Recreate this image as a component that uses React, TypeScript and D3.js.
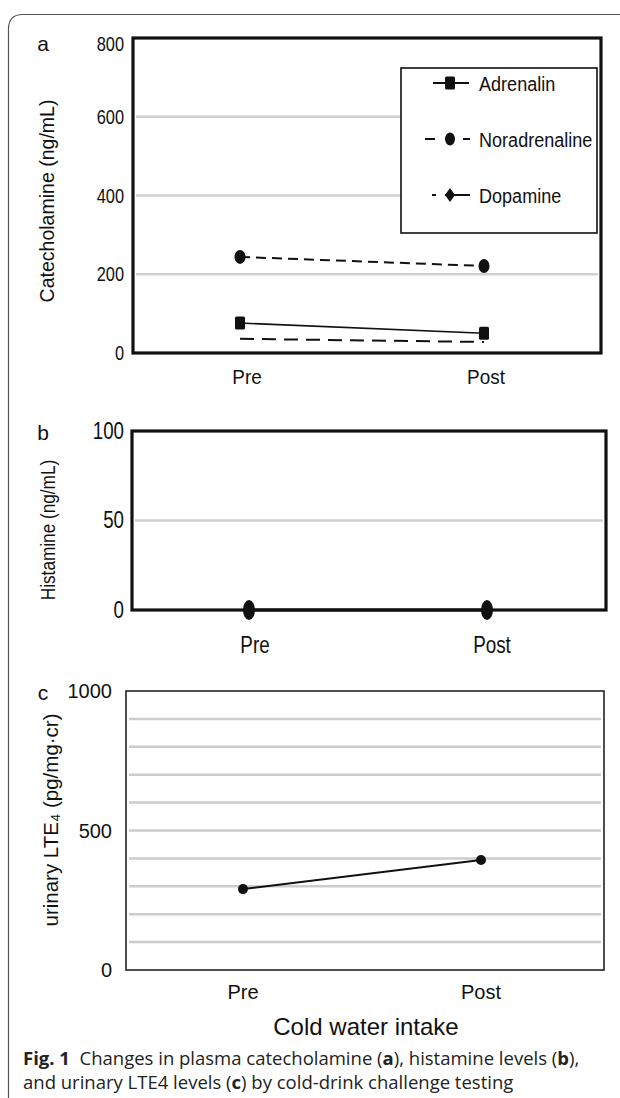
import React from "react";
import * as d3 from "d3";

// ---------- data ----------
const categories = ["Pre", "Post"];
const adrenalin = [76, 50];
const noradrenaline = [244, 221];
const dopamine = [36, 28];
const histamine = [0, 0];
const lte4 = [290, 394];

const ticksA = [0, 200, 400, 600, 800];
const gridA = [200, 400, 600];
const ticksB = [0, 50, 100];
const gridB = [50];
const ticksC = [0, 500, 1000];
const gridC = [100, 200, 300, 400, 500, 600, 700, 800, 900];

const legendNames = ["Adrenalin", "Noradrenaline", "Dopamine"];

const FONT = "'Liberation Sans', Arial, Helvetica, sans-serif";
const CAPFONT = "'Open Sans', 'Noto Sans', sans-serif";

type TProps = {
  x: number; y: number; s?: number; rot?: number; anchor?: string;
  size: number; children: React.ReactNode; weight?: string; family?: string;
};
function T({ x, y, s = 1, rot = 0, anchor = "middle", size, children, weight, family }: TProps) {
  return (
    <text
      transform={`translate(${x},${y})${rot ? ` rotate(${rot})` : ""} scale(${s},1)`}
      textAnchor={anchor as any}
      dominantBaseline="central"
      fontSize={size}
      fontWeight={weight}
      fontFamily={family || FONT}
      fill="#111"
    >
      {children}
    </text>
  );
}

function Square({ cx, cy }: { cx: number; cy: number }) {
  return <rect x={cx - 5} y={cy - 6.5} width={10} height={13} rx={1.5} fill="#111" />;
}
function Dot({ cx, cy, rx = 5.5, ry = 7 }: { cx: number; cy: number; rx?: number; ry?: number }) {
  return <ellipse cx={cx} cy={cy} rx={rx} ry={ry} fill="#111" />;
}
function Diamond({ cx, cy }: { cx: number; cy: number }) {
  return <path d={`M${cx},${cy - 7}L${cx + 5},${cy}L${cx},${cy + 7}L${cx - 5},${cy}Z`} fill="#111" />;
}

export default function App() {
  // ---- panel a ----
  const boxA = { x0: 133, x1: 601, y0: 38, y1: 353 };
  const xA = d3.scalePoint<string>().domain(categories).range([240, 484]);
  const yA = d3.scaleLinear().domain([0, 800]).range([boxA.y1, boxA.y0]);
  const lineA = d3.line<number>().x((_, i) => xA(categories[i])!).y((d) => yA(d));

  // ---- panel b ----
  const boxB = { x0: 132, x1: 606, y0: 431, y1: 610 };
  const xB = d3.scalePoint<string>().domain(categories).range([249, 487]);
  const yB = d3.scaleLinear().domain([0, 100]).range([boxB.y1, boxB.y0]);
  const lineB = d3.line<number>().x((_, i) => xB(categories[i])!).y((d) => yB(d));

  // ---- panel c ----
  const boxC = { x0: 126, x1: 604, y0: 691, y1: 970 };
  const xC = d3.scalePoint<string>().domain(categories).range([243, 481]);
  const yC = d3.scaleLinear().domain([0, 1000]).range([boxC.y1, boxC.y0]);
  const lineC = d3.line<number>().x((_, i) => xC(categories[i])!).y((d) => yC(d));

  const legend = { x0: 401, x1: 597, y0: 68, y1: 233 };
  const legY = [83, 139, 195];

  return (
    <svg width={620} height={1098} style={{ position: "absolute", left: 0, top: 0, background: "#fff" }}>
      <rect x={0} y={0} width={620} height={1098} fill="#fff" />
      {/* card border */}
      <path d="M8.5,1098 V29 Q8.5,14.5 23,14.5 H620" fill="none" stroke="#555" strokeWidth={1.2} />

      {/* ================= panel a ================= */}
      <T x={43} y={43} size={21}>a</T>
      {gridA.map((g) => (
        <line key={g} x1={boxA.x0 + 3} x2={boxA.x1 - 3} y1={yA(g)} y2={yA(g)} stroke="#d0d0d0" strokeWidth={2.5} />
      ))}
      <rect x={boxA.x0} y={boxA.y0} width={boxA.x1 - boxA.x0} height={boxA.y1 - boxA.y0} fill="none" stroke="#111" strokeWidth={3.2} />
      {ticksA.map((t) => (
        <T key={t} x={124} y={Math.max(yA(t), boxA.y0 + 6)} s={0.78} anchor="end" size={21}>{t}</T>
      ))}
      <T x={47} y={201} rot={-90} s={0.93} size={21}>Catecholamine (ng/mL)</T>
      {categories.map((c, i) => (
        <T key={c} x={xA(c)! + (i === 0 ? 7 : 2)} y={377} s={0.9} size={21}>{c}</T>
      ))}
      {/* series */}
      <path d={lineA(dopamine)!} fill="none" stroke="#111" strokeWidth={2} strokeDasharray="14 8" />
      <path d={lineA(noradrenaline)!} fill="none" stroke="#111" strokeWidth={2} strokeDasharray="10 6" />
      <path d={lineA(adrenalin)!} fill="none" stroke="#111" strokeWidth={1.6} />
      {noradrenaline.map((v, i) => <Dot key={"n" + i} cx={xA(categories[i])!} cy={yA(v)} />)}
      {adrenalin.map((v, i) => <Square key={"a" + i} cx={xA(categories[i])!} cy={yA(v)} />)}
      {/* legend */}
      <rect x={legend.x0} y={legend.y0} width={legend.x1 - legend.x0} height={legend.y1 - legend.y0} fill="#fff" stroke="#111" strokeWidth={1.6} />
      <line x1={433} x2={469} y1={legY[0]} y2={legY[0]} stroke="#111" strokeWidth={1.8} />
      <Square cx={450} cy={legY[0]} />
      <line x1={425} x2={470} y1={legY[1]} y2={legY[1]} stroke="#111" strokeWidth={2} strokeDasharray="10 28" />
      <Dot cx={450} cy={legY[1]} rx={5} ry={6.5} />
      <line x1={432} x2={470} y1={legY[2]} y2={legY[2]} stroke="#111" strokeWidth={1.8} strokeDasharray="4 9 30" />
      <Diamond cx={450} cy={legY[2]} />
      {legendNames.map((n, i) => (
        <T key={n} x={479} y={legY[i]} s={0.86} anchor="start" size={21}>{n}</T>
      ))}

      {/* ================= panel b ================= */}
      <T x={43} y={432} size={21}>b</T>
      {gridB.map((g) => (
        <line key={g} x1={boxB.x0 + 3} x2={boxB.x1 - 3} y1={yB(g)} y2={yB(g)} stroke="#d0d0d0" strokeWidth={2.5} />
      ))}
      <rect x={boxB.x0} y={boxB.y0} width={boxB.x1 - boxB.x0} height={boxB.y1 - boxB.y0} fill="none" stroke="#111" strokeWidth={3.2} />
      {ticksB.map((t) => (
        <T key={t} x={124} y={yB(t)} s={0.78} anchor="end" size={24}>{t}</T>
      ))}
      <T x={48} y={530} rot={-90} s={0.86} size={20}>Histamine (ng/mL)</T>
      {categories.map((c, i) => (
        <T key={c} x={xB(c)! + (i === 0 ? 6 : 5)} y={645} s={0.82} size={23}>{c}</T>
      ))}
      <path d={lineB(histamine)!} fill="none" stroke="#111" strokeWidth={3} />
      {histamine.map((v, i) => <Dot key={"h" + i} cx={xB(categories[i])!} cy={yB(v)} rx={6} ry={10} />)}

      {/* ================= panel c ================= */}
      <T x={43} y={692} size={21}>c</T>
      {gridC.map((g) => (
        <line key={g} x1={boxC.x0 + 3} x2={boxC.x1 - 3} y1={yC(g)} y2={yC(g)} stroke="#cccccc" strokeWidth={2.5} />
      ))}
      <rect x={boxC.x0} y={boxC.y0} width={boxC.x1 - boxC.x0} height={boxC.y1 - boxC.y0} fill="none" stroke="#222" strokeWidth={1.6} />
      {ticksC.map((t) => (
        <T key={t} x={112} y={yC(t)} anchor="end" size={20}>{t}</T>
      ))}
      <T x={50} y={820} rot={-90} size={20.5}>urinary LTE₄ (pg/mg·cr)</T>
      {categories.map((c) => (
        <T key={c} x={xC(c)!} y={992} size={20}>{c}</T>
      ))}
      <T x={366} y={1026} size={24}>Cold water intake</T>
      <path d={lineC(lte4)!} fill="none" stroke="#111" strokeWidth={2} />
      {lte4.map((v, i) => <Dot key={"l" + i} cx={xC(categories[i])!} cy={yC(v)} rx={5} ry={5} />)}

      {/* caption */}
      <text x={23} y={1065} fontSize={18.5} fontFamily={CAPFONT} fill="#222">
        <tspan fontWeight="bold">Fig. 1</tspan>
        <tspan>{"\u00a0\u00a0Changes in plasma catecholamine ("}</tspan>
        <tspan fontWeight="bold">a</tspan>
        <tspan>{"), histamine levels ("}</tspan>
        <tspan fontWeight="bold">b</tspan>
        <tspan>{"),"}</tspan>
      </text>
      <text x={23} y={1089} fontSize={18.5} fontFamily={CAPFONT} fill="#222">
        <tspan>{"and urinary LTE4 levels ("}</tspan>
        <tspan fontWeight="bold">c</tspan>
        <tspan>{") by cold-drink challenge testing"}</tspan>
      </text>
    </svg>
  );
}
